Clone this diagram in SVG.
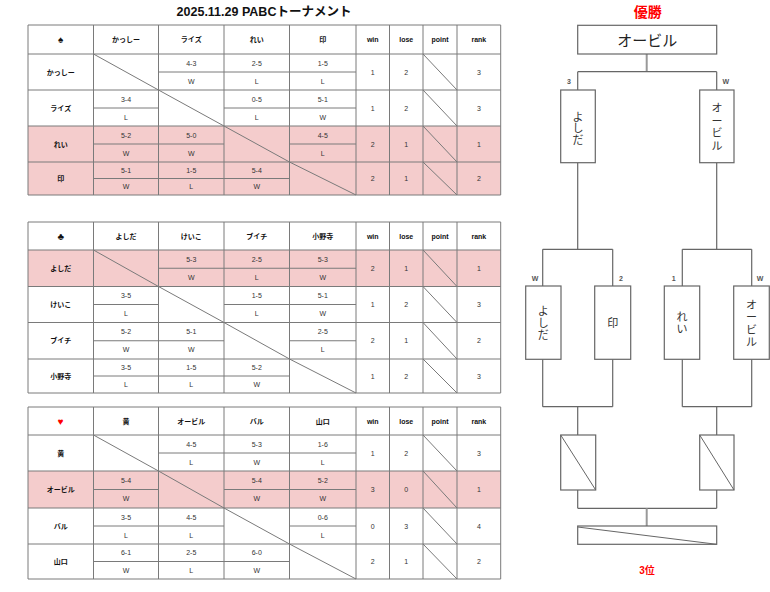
<svg xmlns="http://www.w3.org/2000/svg" width="770" height="592" viewBox="0 0 770 592">
<style>
text{font-family:"Liberation Sans","DejaVu Sans","Noto Sans CJK JP",sans-serif;text-anchor:middle}
.b{font-size:7px;font-weight:bold;fill:#111}
.s{font-size:7px;fill:#333}
.suit{font-size:10px}
.grid line,.grid rect{stroke:#7a7a7a;stroke-width:1;fill:none}
.dv{stroke:#666;stroke-width:1}
.pink{fill:#f4cccc}
.br line,.br rect{stroke:#666;stroke-width:1.2;fill:#fff}
.br line.c{stroke:#999;stroke-width:2}
.br line.d{stroke:#666;stroke-width:1}
.lbl{font-size:7px;font-weight:bold;fill:#555}
.vt{font-size:11px;fill:#333}
.red{fill:#ff0000;font-weight:bold}
</style>
<rect width="770" height="592" fill="#fff"/>
<text id="title" x="264" y="16" style="font-size:12.5px;font-weight:bold;fill:#111">2025.11.29 PABCトーナメント</text>

<g id="table1">
<rect class="pink" x="28" y="126" width="472.7" height="69"/>
<g class="grid">
<line x1="28" y1="25" x2="500.7" y2="25"/><line x1="28" y1="54" x2="500.7" y2="54"/><line x1="28" y1="90" x2="500.7" y2="90"/><line x1="28" y1="126" x2="500.7" y2="126"/><line x1="28" y1="162" x2="500.7" y2="162"/><line x1="28" y1="195" x2="500.7" y2="195"/>
<line x1="28" y1="25" x2="28" y2="195"/><line x1="93.5" y1="25" x2="93.5" y2="195"/><line x1="158.5" y1="25" x2="158.5" y2="195"/><line x1="224" y1="25" x2="224" y2="195"/><line x1="289.5" y1="25" x2="289.5" y2="195"/><line x1="356" y1="25" x2="356" y2="195"/><line x1="389.5" y1="25" x2="389.5" y2="195"/><line x1="423" y1="25" x2="423" y2="195"/><line x1="457" y1="25" x2="457" y2="195"/><line x1="500.7" y1="25" x2="500.7" y2="195"/>
<line class="dv" x1="158.5" y1="72" x2="356" y2="72"/>
<line class="dv" x1="93.5" y1="108" x2="158.5" y2="108"/><line class="dv" x1="224" y1="108" x2="356" y2="108"/>
<line class="dv" x1="93.5" y1="144" x2="224" y2="144"/><line class="dv" x1="289.5" y1="144" x2="356" y2="144"/>
<line class="dv" x1="93.5" y1="178.5" x2="289.5" y2="178.5"/>
<line x1="93.5" y1="54" x2="158.5" y2="90"/><line x1="158.5" y1="90" x2="224" y2="126"/><line x1="224" y1="126" x2="289.5" y2="162"/><line x1="289.5" y1="162" x2="356" y2="195"/>
<line x1="423" y1="54" x2="457" y2="90"/><line x1="423" y1="90" x2="457" y2="126"/><line x1="423" y1="126" x2="457" y2="162"/><line x1="423" y1="162" x2="457" y2="195"/>
</g>
<g class="b">
<text class="suit" x="60.75" y="43">♠</text><text x="126" y="42">かっしー</text><text x="191.25" y="42">ライズ</text><text x="256.75" y="42">れい</text><text x="322.75" y="42">印</text><text x="372.75" y="42">win</text><text x="406.25" y="42">lose</text><text x="440" y="42">point</text><text x="478.85" y="42">rank</text>
<text x="60.75" y="74.5">かっしー</text><text x="60.75" y="110.5">ライズ</text><text x="60.75" y="146.5">れい</text><text x="60.75" y="181">印</text>
</g>
<g class="s">
<text x="191.25" y="65.5">4-3</text><text x="191.25" y="83.5">W</text><text x="256.75" y="65.5">2-5</text><text x="256.75" y="83.5">L</text><text x="322.75" y="65.5">1-5</text><text x="322.75" y="83.5">L</text>
<text x="372.75" y="74.5">1</text><text x="406.25" y="74.5">2</text><text x="478.85" y="74.5">3</text>
<text x="126" y="101.5">3-4</text><text x="126" y="119.5">L</text><text x="256.75" y="101.5">0-5</text><text x="256.75" y="119.5">L</text><text x="322.75" y="101.5">5-1</text><text x="322.75" y="119.5">W</text>
<text x="372.75" y="110.5">1</text><text x="406.25" y="110.5">2</text><text x="478.85" y="110.5">3</text>
<text x="126" y="137.5">5-2</text><text x="126" y="155.5">W</text><text x="191.25" y="137.5">5-0</text><text x="191.25" y="155.5">W</text><text x="322.75" y="137.5">4-5</text><text x="322.75" y="155.5">L</text>
<text x="372.75" y="146.5">2</text><text x="406.25" y="146.5">1</text><text x="478.85" y="146.5">1</text>
<text x="126" y="172.75">5-1</text><text x="126" y="189.25">W</text><text x="191.25" y="172.75">1-5</text><text x="191.25" y="189.25">L</text><text x="256.75" y="172.75">5-4</text><text x="256.75" y="189.25">W</text>
<text x="372.75" y="181">2</text><text x="406.25" y="181">1</text><text x="478.85" y="181">2</text>
</g>
</g>

<g id="table2">
<rect class="pink" x="28" y="250" width="472.7" height="36.5"/>
<g class="grid">
<line x1="28" y1="222" x2="500.7" y2="222"/><line x1="28" y1="250" x2="500.7" y2="250"/><line x1="28" y1="286.5" x2="500.7" y2="286.5"/><line x1="28" y1="322.5" x2="500.7" y2="322.5"/><line x1="28" y1="359" x2="500.7" y2="359"/><line x1="28" y1="393" x2="500.7" y2="393"/>
<line x1="28" y1="222" x2="28" y2="393"/><line x1="93.5" y1="222" x2="93.5" y2="393"/><line x1="158.5" y1="222" x2="158.5" y2="393"/><line x1="224" y1="222" x2="224" y2="393"/><line x1="289.5" y1="222" x2="289.5" y2="393"/><line x1="356" y1="222" x2="356" y2="393"/><line x1="389.5" y1="222" x2="389.5" y2="393"/><line x1="423" y1="222" x2="423" y2="393"/><line x1="457" y1="222" x2="457" y2="393"/><line x1="500.7" y1="222" x2="500.7" y2="393"/>
<line class="dv" x1="158.5" y1="268.25" x2="356" y2="268.25"/>
<line class="dv" x1="93.5" y1="304.5" x2="158.5" y2="304.5"/><line class="dv" x1="224" y1="304.5" x2="356" y2="304.5"/>
<line class="dv" x1="93.5" y1="340.75" x2="224" y2="340.75"/><line class="dv" x1="289.5" y1="340.75" x2="356" y2="340.75"/>
<line class="dv" x1="93.5" y1="376" x2="289.5" y2="376"/>
<line x1="93.5" y1="250" x2="158.5" y2="286.5"/><line x1="158.5" y1="286.5" x2="224" y2="322.5"/><line x1="224" y1="322.5" x2="289.5" y2="359"/><line x1="289.5" y1="359" x2="356" y2="393"/>
<line x1="423" y1="250" x2="457" y2="286.5"/><line x1="423" y1="286.5" x2="457" y2="322.5"/><line x1="423" y1="322.5" x2="457" y2="359"/><line x1="423" y1="359" x2="457" y2="393"/>
</g>
<g class="b">
<text class="suit" x="60.75" y="239.5">♣</text><text x="126" y="238.5">よしだ</text><text x="191.25" y="238.5">けいこ</text><text x="256.75" y="238.5">ブイチ</text><text x="322.75" y="238.5">小野寺</text><text x="372.75" y="238.5">win</text><text x="406.25" y="238.5">lose</text><text x="440" y="238.5">point</text><text x="478.85" y="238.5">rank</text>
<text x="60.75" y="270.75">よしだ</text><text x="60.75" y="307">けいこ</text><text x="60.75" y="343.25">ブイチ</text><text x="60.75" y="378.5">小野寺</text>
</g>
<g class="s">
<text x="191.25" y="261.6">5-3</text><text x="191.25" y="279.9">W</text><text x="256.75" y="261.6">2-5</text><text x="256.75" y="279.9">L</text><text x="322.75" y="261.6">5-3</text><text x="322.75" y="279.9">W</text>
<text x="372.75" y="270.75">2</text><text x="406.25" y="270.75">1</text><text x="478.85" y="270.75">1</text>
<text x="126" y="298">3-5</text><text x="126" y="316">L</text><text x="256.75" y="298">1-5</text><text x="256.75" y="316">L</text><text x="322.75" y="298">5-1</text><text x="322.75" y="316">W</text>
<text x="372.75" y="307">1</text><text x="406.25" y="307">2</text><text x="478.85" y="307">3</text>
<text x="126" y="334.1">5-2</text><text x="126" y="352.4">W</text><text x="191.25" y="334.1">5-1</text><text x="191.25" y="352.4">W</text><text x="322.75" y="334.1">2-5</text><text x="322.75" y="352.4">L</text>
<text x="372.75" y="343.25">2</text><text x="406.25" y="343.25">1</text><text x="478.85" y="343.25">2</text>
<text x="126" y="370">3-5</text><text x="126" y="387">L</text><text x="191.25" y="370">1-5</text><text x="191.25" y="387">L</text><text x="256.75" y="370">5-2</text><text x="256.75" y="387">W</text>
<text x="372.75" y="378.5">1</text><text x="406.25" y="378.5">2</text><text x="478.85" y="378.5">3</text>
</g>
</g>

<g id="table3">
<rect class="pink" x="28" y="471" width="472.7" height="37"/>
<g class="grid">
<line x1="28" y1="407" x2="500.7" y2="407"/><line x1="28" y1="435" x2="500.7" y2="435"/><line x1="28" y1="471" x2="500.7" y2="471"/><line x1="28" y1="508" x2="500.7" y2="508"/><line x1="28" y1="544" x2="500.7" y2="544"/><line x1="28" y1="579" x2="500.7" y2="579"/>
<line x1="28" y1="407" x2="28" y2="579"/><line x1="93.5" y1="407" x2="93.5" y2="579"/><line x1="158.5" y1="407" x2="158.5" y2="579"/><line x1="224" y1="407" x2="224" y2="579"/><line x1="289.5" y1="407" x2="289.5" y2="579"/><line x1="356" y1="407" x2="356" y2="579"/><line x1="389.5" y1="407" x2="389.5" y2="579"/><line x1="423" y1="407" x2="423" y2="579"/><line x1="457" y1="407" x2="457" y2="579"/><line x1="500.7" y1="407" x2="500.7" y2="579"/>
<line class="dv" x1="158.5" y1="453" x2="356" y2="453"/>
<line class="dv" x1="93.5" y1="489.5" x2="158.5" y2="489.5"/><line class="dv" x1="224" y1="489.5" x2="356" y2="489.5"/>
<line class="dv" x1="93.5" y1="526" x2="224" y2="526"/><line class="dv" x1="289.5" y1="526" x2="356" y2="526"/>
<line class="dv" x1="93.5" y1="561.5" x2="289.5" y2="561.5"/>
<line x1="93.5" y1="435" x2="158.5" y2="471"/><line x1="158.5" y1="471" x2="224" y2="508"/><line x1="224" y1="508" x2="289.5" y2="544"/><line x1="289.5" y1="544" x2="356" y2="579"/>
<line x1="423" y1="435" x2="457" y2="471"/><line x1="423" y1="471" x2="457" y2="508"/><line x1="423" y1="508" x2="457" y2="544"/><line x1="423" y1="544" x2="457" y2="579"/>
</g>
<g class="b">
<text class="suit" x="60.75" y="424.5" style="fill:#ff0000">♥</text><text x="126" y="423.5">黄</text><text x="191.25" y="423.5">オービル</text><text x="256.75" y="423.5">バル</text><text x="322.75" y="423.5">山口</text><text x="372.75" y="423.5">win</text><text x="406.25" y="423.5">lose</text><text x="440" y="423.5">point</text><text x="478.85" y="423.5">rank</text>
<text x="60.75" y="455.5">黄</text><text x="60.75" y="492">オービル</text><text x="60.75" y="528.5">バル</text><text x="60.75" y="564">山口</text>
</g>
<g class="s">
<text x="191.25" y="446.5">4-5</text><text x="191.25" y="464.5">L</text><text x="256.75" y="446.5">5-3</text><text x="256.75" y="464.5">W</text><text x="322.75" y="446.5">1-6</text><text x="322.75" y="464.5">L</text>
<text x="372.75" y="455.5">1</text><text x="406.25" y="455.5">2</text><text x="478.85" y="455.5">3</text>
<text x="126" y="482.75">5-4</text><text x="126" y="501.25">W</text><text x="256.75" y="482.75">5-4</text><text x="256.75" y="501.25">W</text><text x="322.75" y="482.75">5-2</text><text x="322.75" y="501.25">W</text>
<text x="372.75" y="492">3</text><text x="406.25" y="492">0</text><text x="478.85" y="492">1</text>
<text x="126" y="519.5">3-5</text><text x="126" y="537.5">L</text><text x="191.25" y="519.5">4-5</text><text x="191.25" y="537.5">L</text><text x="322.75" y="519.5">0-6</text><text x="322.75" y="537.5">L</text>
<text x="372.75" y="528.5">0</text><text x="406.25" y="528.5">3</text><text x="478.85" y="528.5">4</text>
<text x="126" y="555.25">6-1</text><text x="126" y="572.75">W</text><text x="191.25" y="555.25">2-5</text><text x="191.25" y="572.75">L</text><text x="256.75" y="555.25">6-0</text><text x="256.75" y="572.75">W</text>
<text x="372.75" y="564">2</text><text x="406.25" y="564">1</text><text x="478.85" y="564">2</text>
</g>
</g>

<g id="connectors" class="br">
<line class="c" x1="646.7" y1="54" x2="646.7" y2="71.7"/>
<line x1="577.7" y1="71.7" x2="716.7" y2="71.7"/>
<line x1="577.7" y1="71.7" x2="577.7" y2="90"/><line x1="716.7" y1="71.7" x2="716.7" y2="90"/>
<line x1="577.7" y1="162.7" x2="577.7" y2="249.3"/><line x1="716.7" y1="162.7" x2="716.7" y2="249.3"/>
<line x1="542.7" y1="249.3" x2="612.7" y2="249.3"/><line x1="682.3" y1="249.3" x2="751.7" y2="249.3"/>
<line x1="542.7" y1="249.3" x2="542.7" y2="286"/><line x1="612.7" y1="249.3" x2="612.7" y2="286"/><line x1="682.3" y1="249.3" x2="682.3" y2="286"/><line x1="751.7" y1="249.3" x2="751.7" y2="286"/>
<line x1="542.7" y1="359.3" x2="542.7" y2="406.7"/><line x1="612.7" y1="359.3" x2="612.7" y2="406.7"/><line x1="682.3" y1="359.3" x2="682.3" y2="406.7"/><line x1="751.7" y1="359.3" x2="751.7" y2="406.7"/>
<line x1="542.7" y1="406.7" x2="612.7" y2="406.7"/><line x1="682.3" y1="406.7" x2="751.7" y2="406.7"/>
<line x1="577.7" y1="406.7" x2="577.7" y2="435"/><line x1="716.7" y1="406.7" x2="716.7" y2="435"/>
<line x1="577.7" y1="490" x2="577.7" y2="508.3"/><line x1="716.7" y1="490" x2="716.7" y2="508.3"/>
<line x1="577.7" y1="508.3" x2="716.7" y2="508.3"/>
<line class="c" x1="646.7" y1="508.3" x2="646.7" y2="526"/>
</g>

<g id="labels">
<text class="lbl" x="569" y="84">3</text><text class="lbl" x="725.7" y="84">W</text>
<text class="lbl" x="535" y="281">W</text><text class="lbl" x="621" y="281">2</text><text class="lbl" x="673.7" y="281">1</text><text class="lbl" x="760" y="281">W</text>
</g>

<text id="champ-title" class="red" x="647.7" y="17" style="font-size:14px">優勝</text>
<g id="champion" class="br">
<rect x="577.7" y="25.3" width="139" height="28.7"/>
<text x="647.2" y="45.5" style="font-size:15px;fill:#222">オービル</text>
</g>
<g id="semi-left" class="br">
<rect x="560.7" y="90" width="34.6" height="72.7"/>
<text class="vt" x="578" y="120.5">よ</text><text class="vt" x="578" y="132">し</text><text class="vt" x="578" y="143.5">だ</text>
</g>
<g id="semi-right" class="br">
<rect x="699.7" y="90" width="34.3" height="72.7"/>
<text class="vt" x="716.9" y="112">オ</text><text class="vt" x="716.9" y="124.5">ー</text><text class="vt" x="716.9" y="137">ビ</text><text class="vt" x="716.9" y="149.5">ル</text>
</g>
<g id="a-yoshida" class="br">
<rect x="525.7" y="286" width="35.3" height="73.3"/>
<text class="vt" x="543.3" y="314.5">よ</text><text class="vt" x="543.3" y="326.5">し</text><text class="vt" x="543.3" y="338.5">だ</text>
</g>
<g id="b-in" class="br">
<rect x="594.7" y="286" width="36" height="73.3"/>
<text class="vt" x="612.7" y="327.3">印</text>
</g>
<g id="c-rei" class="br">
<rect x="664.3" y="286" width="35.4" height="73.3"/>
<text class="vt" x="682" y="321">れ</text><text class="vt" x="682" y="332.5">い</text>
</g>
<g id="d-obiru" class="br">
<rect x="733.7" y="286" width="35.6" height="73.3"/>
<text class="vt" x="751.5" y="308.5">オ</text><text class="vt" x="751.5" y="321">ー</text><text class="vt" x="751.5" y="333.5">ビ</text><text class="vt" x="751.5" y="346">ル</text>
</g>
<g id="loser-left" class="br">
<rect x="560.7" y="435" width="35" height="55"/>
<line class="d" x1="560.7" y1="435" x2="595.7" y2="490"/>
</g>
<g id="loser-right" class="br">
<rect x="699.7" y="435" width="34.3" height="55"/>
<line class="d" x1="699.7" y1="435" x2="734" y2="490"/>
</g>
<g id="third" class="br">
<rect x="577.7" y="526" width="139" height="18.3"/>
<line class="d" x1="577.7" y1="527" x2="716.7" y2="544.3"/>
</g>
<text id="third-title" class="red" x="647" y="573.5" style="font-size:10px">3位</text>
</svg>
